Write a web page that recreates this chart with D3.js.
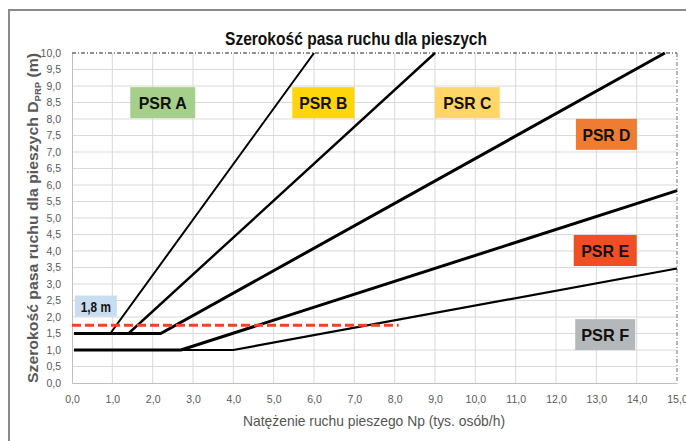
<!DOCTYPE html>
<html>
<head>
<meta charset="utf-8">
<title>Szerokość pasa ruchu dla pieszych</title>
<script src="https://cdnjs.cloudflare.com/ajax/libs/d3/7.8.5/d3.min.js"></script>
<style>
  body {
    margin: 0;
    background: #fff;
  }
  .tick text {
    font-family: "Liberation Sans", Arial, sans-serif;
    font-size: 10.5px;
    fill: #595959;
  }
  .grid line {
    stroke: #d9d9d9;
    stroke-width: 1;
  }
  .psr text {
    font-family: "Liberation Sans", Arial, sans-serif;
    font-weight: bold;
    font-size: 17px;
    fill: #111;
  }
</style>
</head>
<body>
<div id="chart"></div>
<script>
  // chart data
  var xTicks = [0, 1, 2, 3, 4, 5, 6, 7, 8, 9, 10, 11, 12, 13, 14, 15];
  var yTicks = [0, 0.5, 1, 1.5, 2, 2.5, 3, 3.5, 4, 4.5, 5, 5.5, 6, 6.5, 7, 7.5, 8, 8.5, 9, 9.5, 10];

  // boundaries between the PSR zones, [Np, D]
  var lineAB = [[0.05, 1.5], [0.95, 1.5], [6.0, 10.0]];
  var lineBC = [[0.05, 1.5], [1.4, 1.5], [9.0, 10.0]];
  var lineCD = [[0.05, 1.5], [2.2, 1.5], [14.7, 10.0]];
  var lineDE = [[0.05, 1.0], [2.7, 1.0], [15.0, 5.83]];
  var lineEF = [[0.05, 1.0], [4.0, 1.0], [15.0, 3.47]];
  var minWidth = [[0.0, 1.75], [8.1, 1.75]];

  var zoneNames = ["PSR A", "PSR B", "PSR C", "PSR D", "PSR E", "PSR F"];

  var width = 686;
  var height = 441;
  var margin = {top: 53, right: 9, bottom: 58, left: 72};

  var svg = d3.select("#chart")
    .append("svg")
    .attr("width", width)
    .attr("height", height);

  // outer frame
  svg.append("rect")
    .attr("x", 9)
    .attr("y", 10)
    .attr("width", 700)
    .attr("height", 460)
    .attr("fill", "none")
    .attr("stroke", "#8a8a8a")
    .attr("stroke-width", 2);

  var x = d3.scaleLinear().domain([0, 15]).range([margin.left, width - margin.right]);
  var y = d3.scaleLinear().domain([0, 10]).range([height - margin.bottom, margin.top]);

  var fmt = function(d) { return d3.format(".1f")(d).replace(".", ","); };

  // grid
  var grid = svg.append("g").attr("class", "grid");
  grid.selectAll("line.h")
    .data(yTicks.slice(1, -1))
    .enter().append("line")
    .attr("x1", x(0)).attr("x2", x(15))
    .attr("y1", function(d) { return y(d); })
    .attr("y2", function(d) { return y(d); });
  grid.selectAll("line.v")
    .data(xTicks.slice(1, -1))
    .enter().append("line")
    .attr("y1", y(0)).attr("y2", y(10))
    .attr("x1", function(d) { return x(d); })
    .attr("x2", function(d) { return x(d); });

  // axes
  var xAxis = svg.append("g")
    .attr("transform", "translate(0," + y(0) + ")")
    .call(d3.axisBottom(x).tickValues(xTicks).tickFormat(fmt).tickSize(0).tickPadding(13));
  xAxis.select(".domain").attr("stroke", "#bfbfbf");

  var yAxis = svg.append("g")
    .attr("transform", "translate(" + x(0) + ",0)")
    .call(d3.axisLeft(y).tickValues(yTicks).tickFormat(fmt).tickSize(0).tickPadding(11));
  yAxis.select(".domain").attr("stroke", "#bfbfbf");

  // top and right borders of the plot (dash-dot)
  svg.append("line")
    .attr("x1", x(0)).attr("x2", x(15))
    .attr("y1", y(10)).attr("y2", y(10))
    .attr("stroke", "#222")
    .attr("stroke-width", 1.2)
    .attr("stroke-dasharray", "4,2,1,2");
  svg.append("line")
    .attr("x1", x(15)).attr("x2", x(15))
    .attr("y1", y(10)).attr("y2", y(0))
    .attr("stroke", "#888")
    .attr("stroke-width", 1.2)
    .attr("stroke-dasharray", "4,2,1,2");

  var line = d3.line()
    .x(function(d) { return x(d[0]); })
    .y(function(d) { return y(d[1]); });

  var boundaries = [
    {pts: lineAB, w: 2},
    {pts: lineBC, w: 2.4},
    {pts: lineCD, w: 3},
    {pts: lineEF, w: 2.2},
    {pts: lineDE, w: 3}
  ];

  svg.selectAll("path.boundary")
    .data(boundaries)
    .enter().append("path")
    .attr("class", "boundary")
    .attr("d", function(d) { return line(d.pts); })
    .attr("fill", "none")
    .attr("stroke", "#000")
    .attr("stroke-width", function(d) { return d.w; })
    .attr("stroke-linejoin", "round");

  // 1,8 m label
  svg.append("rect")
    .attr("x", x(0.07)).attr("y", y(2.65))
    .attr("width", 42).attr("height", 21)
    .attr("fill", "#c9dcf0");
  svg.append("text")
    .attr("x", x(0.07) + 21).attr("y", y(2.65) + 16)
    .attr("text-anchor", "middle")
    .attr("font-family", "Liberation Sans, Arial, sans-serif")
    .attr("font-weight", "bold")
    .attr("font-size", "15px")
    .attr("textLength", 30)
    .attr("lengthAdjust", "spacingAndGlyphs")
    .attr("fill", "#111")
    .text("1,8 m");

  // minimum width, red dashed
  svg.append("path")
    .attr("d", line(minWidth))
    .attr("fill", "none")
    .attr("stroke", "#ee4423")
    .attr("stroke-width", 3)
    .attr("stroke-dasharray", "9,4");

  // zone labels
  var zoneX = [2.25, 6.23, 9.8, 13.25, 13.22, 13.22];
  var zoneY = [8.48, 8.48, 8.48, 7.52, 4.0, 1.45];
  var zoneW = [65, 62, 65, 61, 63, 60];
  var zoneColor = ["#a6cf8c", "#ffd60a", "#ffd667", "#ee7d33", "#f04e23", "#b5b8ba"];

  var zones = svg.selectAll("g.psr")
    .data(zoneNames)
    .enter().append("g")
    .attr("class", "psr")
    .attr("transform", function(d, i) { return "translate(" + x(zoneX[i]) + "," + y(zoneY[i]) + ")"; });
  zones.append("rect")
    .attr("x", function(d, i) { return -zoneW[i] / 2; })
    .attr("y", -16)
    .attr("width", function(d, i) { return zoneW[i]; })
    .attr("height", 31)
    .attr("fill", function(d, i) { return zoneColor[i]; });
  zones.append("text")
    .attr("text-anchor", "middle")
    .attr("y", 6)
    .attr("textLength", 48)
    .attr("lengthAdjust", "spacingAndGlyphs")
    .text(function(d) { return d; });

  // title
  svg.append("text")
    .attr("x", 356)
    .attr("y", 45)
    .attr("text-anchor", "middle")
    .attr("font-family", "Liberation Sans, Arial, sans-serif")
    .attr("font-weight", "bold")
    .attr("font-size", "18px")
    .attr("textLength", 262)
    .attr("lengthAdjust", "spacingAndGlyphs")
    .attr("fill", "#111")
    .text("Szerokość pasa ruchu dla pieszych");

  // x axis title
  svg.append("text")
    .attr("x", 374)
    .attr("y", 426)
    .attr("text-anchor", "middle")
    .attr("font-family", "Liberation Sans, Arial, sans-serif")
    .attr("font-size", "15px")
    .attr("textLength", 262)
    .attr("lengthAdjust", "spacingAndGlyphs")
    .attr("fill", "#555")
    .text("Natężenie ruchu pieszego Np (tys. osób/h)");

  // y axis title with subscript
  var yt = svg.append("text")
    .attr("transform", "translate(38," + ((y(0) + y(10)) / 2) + ") rotate(-90)")
    .attr("text-anchor", "middle")
    .attr("font-family", "Liberation Sans, Arial, sans-serif")
    .attr("font-weight", "bold")
    .attr("font-size", "15px")
    .attr("textLength", 330)
    .attr("lengthAdjust", "spacingAndGlyphs")
    .attr("fill", "#595959");
  yt.append("tspan").text("Szerokość pasa ruchu dla pieszych D");
  yt.append("tspan").attr("font-size", "9px").attr("dy", 3).text("PRP");
  yt.append("tspan").attr("dy", -3).text(" (m)");
</script>
</body>
</html>
